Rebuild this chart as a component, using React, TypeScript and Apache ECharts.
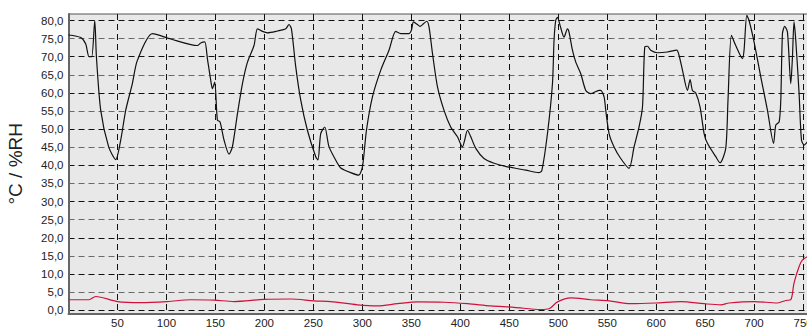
import React, { useEffect, useRef } from 'react';
import * as echarts from 'echarts';

// Relative humidity (black curve)
const rhX = [0, 12.5, 17.6, 20.9, 23.7, 26.8, 28.5, 32.9, 41.0, 48.2,
  53.3, 58.4, 65.2, 70.3, 85.7, 104.4, 131.6, 135, 139.1, 141.8,
  145.2, 146.9, 149.3, 152, 154.7, 158.8, 163.9, 167.3, 172.5, 177.6,
  182.7, 189.4, 192.9, 198, 203.1, 213.3, 221.8, 225.1, 227.6, 232,
  237.1, 243.9, 252.4, 254.7, 257.5, 261.6, 266, 274.6, 277.9, 288.1,
  296.3, 300.1, 304.2, 310.3, 318.8, 327.2, 334.1, 339.2, 347.7, 350.1,
  352.2, 356.2, 358.9, 362.4, 365.7, 368.1, 371.6, 376.7, 383.4, 390.2,
  397.1, 402.2, 404.5, 407.3, 410.7, 415.8, 424.2, 434.4, 448.1, 466.8,
  480.1, 483.2, 489, 494.1, 495.7, 497.4, 499.2, 501.8, 505.9, 509.4,
  511, 514.5, 517.9, 523, 528.1, 533.2, 541.7, 543.4, 546.8, 548.5,
  551.9, 557, 563.8, 572.3, 577.4, 582.5, 586, 588.3, 591.1, 594.4,
  601.3, 611.5, 621, 623.3, 626.8, 631.9, 634.6, 637, 640.4, 644.8,
  648.9, 652.3, 660.8, 665.2, 671, 673.3, 676.8, 681.2, 688.1, 689.7,
  692.5, 694.8, 699.9, 706.8, 713.6, 719.8, 722.1, 725.5, 727.2, 728.9,
  731.2, 734, 737.4, 739.1, 740.7, 742.5, 745.9, 748.3, 751, 754.5];
const rhY = [76.0, 75.3, 73.5, 70.0, 70.0, 80.0, 70.0, 55.2, 45.1, 41.6,
  47, 55.2, 62.6, 69, 76.4, 74.9, 73.1, 73.8, 74.1, 69.5,
  63.5, 61.2, 63, 52.5, 52, 47, 43.1, 45.1, 54.3, 62.6,
  68.5, 73.1, 77.7, 77, 76.6, 77.1, 77.7, 78.9, 77.7, 67.2,
  58, 49.7, 42.4, 41.5, 48.8, 50.6, 45.1, 40.6, 39.3, 38,
  37.3, 39.6, 49.7, 58.9, 66.3, 71.8, 77, 76.4, 76.4, 77.3,
  79.6, 78.9, 78.4, 79.1, 79.8, 78.2, 70.9, 61.7, 55.2, 50.6,
  47.9, 45.1, 47, 49.7, 47.9, 44.7, 41.9, 40.6, 39.6, 38.7,
  38, 38.5, 48.8, 62.6, 74.5, 80, 80.9, 78.7, 75.4, 77.7,
  76.8, 71.8, 68.5, 65.3, 60.7, 59.8, 60.7, 60.7, 58.9, 55.2,
  48.8, 45.1, 41.9, 39.2, 45.1, 50.6, 56.1, 72.7, 72.9, 71.8,
  71.1, 71.3, 71.8, 70.4, 66.3, 60.7, 63.7, 60.7, 60, 56.1,
  48.8, 46.1, 42.4, 40.7, 44.7, 58, 75.9, 73.1, 69.5, 71.8,
  81.4, 80, 74.1, 64.4, 55.2, 46.1, 51.1, 52, 58, 76.4,
  78.4, 76.8, 62.6, 69.9, 79.6, 74.5, 59.8, 47, 45.6, 46.5];

// Temperature (red curve)
const tX = [0, 20.9, 27.8, 49.9, 73.7, 101, 124.8, 148.6, 169, 199.6,
  226.9, 250.7, 267.7, 295, 315.4, 335.8, 356.2, 383.4, 407.3, 431.1,
  454.9, 482.2, 490.6, 499.2, 512.8, 533.2, 551.9, 574, 599.5, 625,
  648.9, 665.9, 674.4, 699.9, 723.8, 732.3, 737.4, 740.7, 745.9, 749.4, 754.5];
const tY = [2.9, 2.9, 3.8, 2.4, 2.1, 2.4, 2.9, 2.8, 2.4, 3.0,
  3.1, 2.6, 2.4, 1.5, 1.2, 1.8, 2.3, 2.2, 1.8, 1.2,
  0.8, 0.2, 0.4, 2.3, 3.4, 2.9, 2.6, 1.8, 2.0, 2.4,
  1.8, 1.5, 2.0, 2.4, 2.0, 2.7, 2.9, 7.5, 12.1, 13.9, 14.8];

const yAxisName = '°C / %RH';
const FONT = 'Liberation Sans, Arial, sans-serif';

export default function App() {
  const ref = useRef<HTMLDivElement>(null);
  useEffect(() => {
    if (!ref.current) return;
    const chart = echarts.init(ref.current, null, { renderer: 'svg' });
    const rh = rhX.map((x, i) => [x, rhY[i]]);
    const t = tX.map((x, i) => [x, tY[i]]);
    chart.setOption({
      animation: false,
      grid: {
        left: 68.5, right: -2, top: 14, bottom: 15.5,
        containLabel: false, outerBoundsMode: 'none',
        show: true, backgroundColor: '#e8e8e8', borderColor: '#555', borderWidth: 1,
      },
      xAxis: {
        type: 'value', min: 0, max: 756, splitNumber: 15,
        axisLine: { show: true, onZero: false, lineStyle: { color: '#666', width: 2 } },
        axisTick: { show: false },
        axisLabel: {
          showMinLabel: false, showMaxLabel: false, color: '#222',
          fontSize: 11.5, fontFamily: FONT, margin: 3, lineHeight: 12,
        },
        splitLine: {
          show: true, showMinLine: false, showMaxLine: false,
          lineStyle: { color: '#111', type: [6, 4], width: 1 },
        },
      },
      yAxis: {
        type: 'value', min: -0.9, max: 81.8, splitNumber: 16,
        name: yAxisName, nameLocation: 'middle', nameGap: 44,
        nameTextStyle: { fontSize: 19, fontFamily: FONT, color: '#222' },
        axisLine: { show: true, onZero: false, lineStyle: { color: '#666', width: 2 } },
        axisTick: { show: false },
        axisLabel: {
          showMinLabel: false, showMaxLabel: false, color: '#222',
          fontSize: 11.5, fontFamily: FONT, margin: 5,
          formatter: (v: number) => v.toFixed(1).replace('.', ','),
        },
        splitLine: {
          show: true, showMinLine: false, showMaxLine: false,
          lineStyle: { color: ['#111', '#6a6a6a'], type: [6, 4], width: 1 },
        },
      },
      series: [
        {
          type: 'line', data: t, showSymbol: false, smooth: 0.3,
          lineStyle: { color: '#d0103c', width: 1.2 },
        },
        {
          type: 'line', data: rh, showSymbol: false, smooth: 0.25,
          lineStyle: { color: '#111', width: 1.2 },
        },
      ],
    });
    return () => chart.dispose();
  }, []);
  return (
    <div
      ref={ref}
      style={{ position: 'absolute', left: 0, top: 0, width: 807, height: 329 }}
    />
  );
}
